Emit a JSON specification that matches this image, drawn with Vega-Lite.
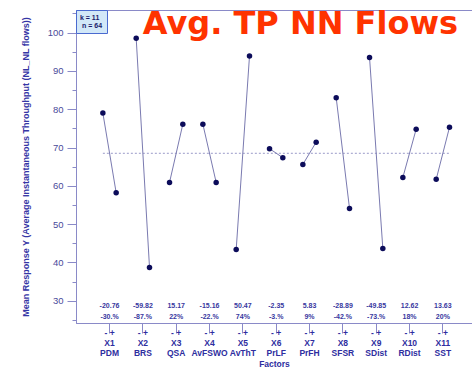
{
  "$schema": "https://vega.github.io/schema/vega-lite/v6.json",
  "width": 396,
  "height": 313,
  "autosize": "none",
  "padding": {"left": 76, "top": 10, "right": 0, "bottom": 46},
  "background": "white",
  "config": {"font": "Liberation Sans", "view": {"stroke": "#8a8ac8", "strokeWidth": 1}},
  "title": {"text": "Avg. TP NN Flows", "anchor": "end", "frame": "group", "font": "DejaVu Sans", "fontSize": 32, "fontWeight": "bold", "color": "#ff3300", "baseline": "alphabetic", "offset": 0, "dy": 56, "dx": -14},
  "datasets": {
    "points": [
      {"factor": "X1", "name": "PDM", "level": "-", "y": 79.0},
      {"factor": "X1", "name": "PDM", "level": "+", "y": 58.2},
      {"factor": "X2", "name": "BRS", "level": "-", "y": 98.5},
      {"factor": "X2", "name": "BRS", "level": "+", "y": 38.7},
      {"factor": "X3", "name": "QSA", "level": "-", "y": 60.9},
      {"factor": "X3", "name": "QSA", "level": "+", "y": 76.1},
      {"factor": "X4", "name": "AvFSWO", "level": "-", "y": 76.1},
      {"factor": "X4", "name": "AvFSWO", "level": "+", "y": 60.9},
      {"factor": "X5", "name": "AvThT", "level": "-", "y": 43.4},
      {"factor": "X5", "name": "AvThT", "level": "+", "y": 93.9},
      {"factor": "X6", "name": "PrLF", "level": "-", "y": 69.7},
      {"factor": "X6", "name": "PrLF", "level": "+", "y": 67.35},
      {"factor": "X7", "name": "PrFH", "level": "-", "y": 65.6},
      {"factor": "X7", "name": "PrFH", "level": "+", "y": 71.4},
      {"factor": "X8", "name": "SFSR", "level": "-", "y": 83.0},
      {"factor": "X8", "name": "SFSR", "level": "+", "y": 54.1},
      {"factor": "X9", "name": "SDist", "level": "-", "y": 93.5},
      {"factor": "X9", "name": "SDist", "level": "+", "y": 43.65},
      {"factor": "X10", "name": "RDist", "level": "-", "y": 62.2},
      {"factor": "X10", "name": "RDist", "level": "+", "y": 74.8},
      {"factor": "X11", "name": "SST", "level": "-", "y": 61.7},
      {"factor": "X11", "name": "SST", "level": "+", "y": 75.3}
    ],
    "effects": [
      {"factor": "X1", "effect": "-20.76", "pct": "-30.%"},
      {"factor": "X2", "effect": "-59.82", "pct": "-87.%"},
      {"factor": "X3", "effect": "15.17", "pct": "22%"},
      {"factor": "X4", "effect": "-15.16", "pct": "-22.%"},
      {"factor": "X5", "effect": "50.47", "pct": "74%"},
      {"factor": "X6", "effect": "-2.35", "pct": "-3.%"},
      {"factor": "X7", "effect": "5.83", "pct": "9%"},
      {"factor": "X8", "effect": "-28.89", "pct": "-42.%"},
      {"factor": "X9", "effect": "-49.85", "pct": "-73.%"},
      {"factor": "X10", "effect": "12.62", "pct": "18%"},
      {"factor": "X11", "effect": "13.63", "pct": "20%"}
    ],
    "mean": [
      {"factor": "X1", "level": "-", "mean": 68.5},
      {"factor": "X11", "level": "+", "mean": 68.5}
    ]
  },
  "layer": [
    {
      "data": {"name": "mean"},
      "mark": {"type": "line", "color": "#9a9ac8", "strokeWidth": 1, "strokeDash": [2, 2]},
      "encoding": {
        "x": {"field": "factor", "type": "nominal", "scale": {"domain": ["X1","X2","X3","X4","X5","X6","X7","X8","X9","X10","X11"], "paddingInner": 0, "paddingOuter": 0.44, "align": 0.575}},
        "xOffset": {"field": "level", "type": "nominal", "scale": {"type": "point", "domain": ["-", "+"], "range": [10, 23.3], "padding": 0}},
        "y": {"field": "mean", "type": "quantitative", "scale": {"domain": [24.2, 105.9], "nice": false, "zero": false},
              "axis": {"orient": "left", "values": [25,35,45,55,65,75,85,95,105], "labels": false, "domain": false, "grid": false, "tickSize": 4, "tickColor": "#8a8ac8", "title": null}}
      }
    },
    {
      "data": {"name": "points"},
      "mark": {"type": "line", "color": "#7a7ab0", "strokeWidth": 1},
      "encoding": {
        "x": {"field": "factor", "type": "nominal"},
        "xOffset": {"field": "level", "type": "nominal"},
        "y": {"field": "y", "type": "quantitative", "axis": null},
        "detail": {"field": "factor"}
      }
    },
    {
      "data": {"name": "points"},
      "mark": {"type": "point", "filled": true, "size": 30, "color": "#0c0c5a", "opacity": 1},
      "encoding": {
        "x": {"field": "factor", "type": "nominal",
              "axis": {"labelAngle": 0, "labelAlign": "center", "labelFlush": false, "labelOverlap": false, "tickSize": 10, "tickColor": "#8a8ac8", "domainColor": "#8a8ac8", "labelPadding": -5, "labelBaseline": "top", "labelFontSize": 8.5, "labelFontWeight": "bold", "labelColor": "#2e2ea0", "labelLineHeight": 10.3,
                       "labelExpr": "['-  +', datum.value, ['PDM','BRS','QSA','AvFSWO','AvThT','PrLF','PrFH','SFSR','SDist','RDist','SST'][toNumber(slice(datum.value,1))-1]]",
                       "title": "Factors", "titleFontSize": 8.5, "titleFontWeight": "bold", "titleColor": "#2e2ea0", "titlePadding": 2, "grid": false}},
        "xOffset": {"field": "level", "type": "nominal"},
        "y": {"field": "y", "type": "quantitative",
              "axis": {"orient": "left", "values": [30,40,50,60,70,80,90,100], "tickSize": 9, "tickColor": "#8a8ac8", "domainColor": "#8a8ac8", "labelFontSize": 9.5, "labelColor": "#4a4a9a", "labelPadding": 4, "grid": false,
                       "title": "Mean Response Y (Average Instantaneous Throughput (NL_NL flows))", "titleFontSize": 9, "titleFontWeight": "bold", "titleColor": "#3535a5", "titlePadding": 17}}
      }
    },
    {
      "data": {"name": "effects"},
      "mark": {"type": "text", "fontSize": 7, "fontWeight": "bold", "color": "#3838a0", "baseline": "middle"},
      "encoding": {
        "x": {"field": "factor", "type": "nominal"},
        "y": {"datum": 28.6, "type": "quantitative", "axis": null},
        "text": {"field": "effect"}
      }
    },
    {
      "data": {"name": "effects"},
      "mark": {"type": "text", "fontSize": 7, "fontWeight": "bold", "color": "#3838a0", "baseline": "middle"},
      "encoding": {
        "x": {"field": "factor", "type": "nominal"},
        "y": {"datum": 25.8, "type": "quantitative", "axis": null},
        "text": {"field": "pct"}
      }
    },
    {
      "data": {"values": [{"n": "n = 64"}]},
      "mark": {"type": "point", "opacity": 0},
      "encoding": {
        "color": {"field": "n", "type": "nominal", "scale": {"range": ["#1a1a6a"]},
                  "legend": {"title": "k = 11", "orient": "top-left", "offset": 0, "padding": 4, "fillColor": "#d2e8f8", "strokeColor": "#4a6ad0",
                             "titleFontSize": 7, "titleFontWeight": "bold", "titleColor": "#1a1a6a", "titlePadding": 1,
                             "labelFontSize": 7, "labelFontWeight": "bold", "labelColor": "#1a1a6a", "labelOffset": -5,
                             "symbolSize": 0, "symbolOpacity": 0, "symbolStrokeWidth": 0}}
      }
    }
  ],
  "resolve": {"axis": {"y": "independent"}}
}
